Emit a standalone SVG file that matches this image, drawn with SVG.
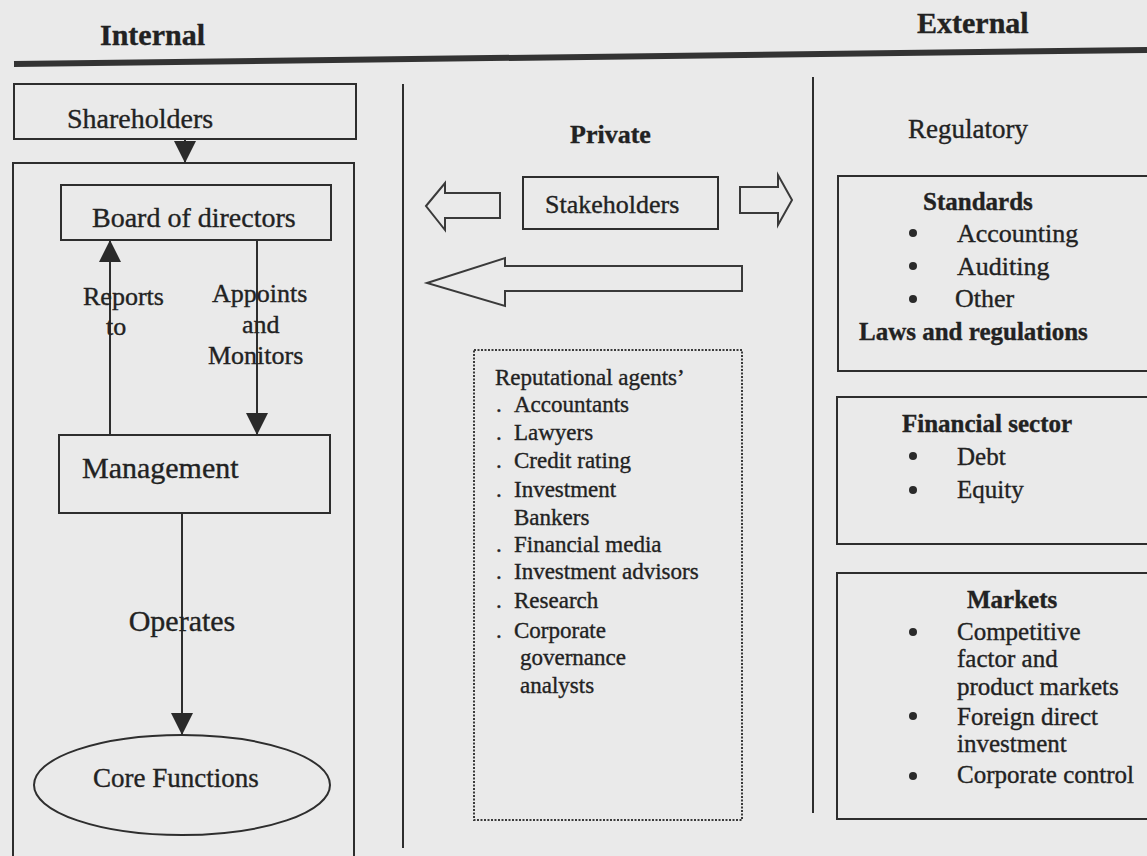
<svg xmlns="http://www.w3.org/2000/svg" width="1147" height="856" viewBox="0 0 1147 856">
<defs>
<style>
.bg{fill:#eaeaea}
.box{fill:none;stroke:#2e2e2e;stroke-width:2}
.dot{fill:none;stroke:#3a3a3a;stroke-width:2;stroke-dasharray:2 1.5}
.ln{fill:none;stroke:#2e2e2e;stroke-width:2}
.blk{fill:none;stroke:#3a3a3a;stroke-width:2;stroke-linejoin:miter}
text{font-family:"Liberation Serif","Times New Roman",serif;fill:#222;stroke:#222;stroke-width:0.35}
.t{font-size:30px;font-weight:bold}
.b{font-weight:bold}
.bul{fill:#2a2a2a}
</style>
<marker id="ah" markerWidth="22" markerHeight="22" refX="22" refY="11" orient="auto" markerUnits="userSpaceOnUse">
<path d="M0,0 L22,11 L0,22 z" fill="#2a2a2a"/>
</marker>
</defs>
<rect class="bg" x="0" y="0" width="1147" height="856"/>

<g id="headers">
<text class="t" x="100" y="45">Internal</text>
<text class="t" x="917" y="33">External</text>
<line x1="14" y1="64" x2="1147" y2="50" stroke="#333" stroke-width="6"/>
</g>

<g id="internal-frame">
<path class="box" d="M13,856 V163 H354 V856"/>
</g>

<g id="shareholders">
<rect class="box" x="14" y="84" width="342" height="55"/>
<text x="67" y="128" font-size="28">Shareholders</text>
</g>

<g id="board">
<rect class="box" x="61" y="185" width="270" height="55"/>
<text x="92" y="227" font-size="28">Board of directors</text>
</g>

<g id="management">
<rect class="box" x="59" y="435" width="271" height="78"/>
<text x="82" y="478" font-size="30">Management</text>
</g>

<g id="core-functions">
<ellipse class="box" cx="182" cy="785" rx="148" ry="50"/>
<text x="93" y="787" font-size="27">Core Functions</text>
</g>

<g id="connectors">
<line class="ln" x1="185" y1="140" x2="185" y2="163" marker-end="url(#ah)"/>
<line class="ln" x1="110" y1="435" x2="110" y2="240" marker-end="url(#ah)"/>
<line class="ln" x1="257" y1="240" x2="257" y2="435" marker-end="url(#ah)"/>
<line class="ln" x1="182" y1="513" x2="182" y2="735" marker-end="url(#ah)"/>
<polygon class="blk" points="426,206 445,183 445,193 500,193 500,218 445,218 445,230"/>
<polygon class="blk" points="740,187 778,187 778,175 792,200 778,225 778,213 740,213"/>
<polygon class="blk" points="427,283 505,258 505,266 742,266 742,291 505,291 505,306"/>
</g>

<g id="connector-labels">
<text x="83" y="305" font-size="26">Reports</text>
<text x="106" y="335" font-size="26">to</text>
<text x="212" y="302" font-size="26">Appoints</text>
<text x="242" y="333" font-size="26">and</text>
<text x="208" y="364" font-size="26">Monitors</text>
<text x="182" y="631" font-size="30" text-anchor="middle">Operates</text>
</g>

<g id="dividers">
<line class="ln" x1="403" y1="84" x2="403" y2="848"/>
<line class="ln" x1="813" y1="77" x2="813" y2="813"/>
</g>

<g id="private">
<text class="b" x="570" y="143" font-size="26">Private</text>
</g>

<g id="stakeholders">
<rect class="box" x="523" y="177" width="195" height="52"/>
<text x="545" y="213" font-size="26">Stakeholders</text>
</g>

<g id="reputational-agents">
<rect class="dot" x="474" y="350" width="268" height="470"/>
<text font-size="23">
<tspan x="495" y="385">Reputational agents’</tspan>
<tspan x="496" y="412">.</tspan><tspan x="514" y="412">Accountants</tspan>
<tspan x="496" y="440">.</tspan><tspan x="514" y="440">Lawyers</tspan>
<tspan x="496" y="468">.</tspan><tspan x="514" y="468">Credit rating</tspan>
<tspan x="496" y="497">.</tspan><tspan x="514" y="497">Investment</tspan>
<tspan x="514" y="525">Bankers</tspan>
<tspan x="496" y="552">.</tspan><tspan x="514" y="552">Financial media</tspan>
<tspan x="496" y="579">.</tspan><tspan x="514" y="579">Investment advisors</tspan>
<tspan x="496" y="608">.</tspan><tspan x="514" y="608">Research</tspan>
<tspan x="496" y="638">.</tspan><tspan x="514" y="638">Corporate</tspan>
<tspan x="520" y="665">governance</tspan>
<tspan x="520" y="693">analysts</tspan>
</text>
</g>

<g id="regulatory">
<text x="908" y="138" font-size="27">Regulatory</text>
</g>

<g id="standards">
<rect class="box" x="838" y="176" width="330" height="195"/>
<text class="b" x="923" y="210" font-size="25">Standards</text>
<circle class="bul" cx="913" cy="233" r="4"/>
<text x="957" y="242" font-size="26">Accounting</text>
<circle class="bul" cx="913" cy="266" r="4"/>
<text x="957" y="275" font-size="26">Auditing</text>
<circle class="bul" cx="913" cy="299" r="4"/>
<text x="955" y="307" font-size="26">Other</text>
<text class="b" x="859" y="340" font-size="25">Laws and regulations</text>
</g>

<g id="financial-sector">
<rect class="box" x="837" y="397" width="330" height="147"/>
<text class="b" x="902" y="432" font-size="25">Financial sector</text>
<circle class="bul" cx="913" cy="456" r="4"/>
<text x="957" y="465" font-size="25">Debt</text>
<circle class="bul" cx="913" cy="490" r="4"/>
<text x="957" y="498" font-size="25">Equity</text>
</g>

<g id="markets">
<rect class="box" x="837" y="573" width="330" height="246"/>
<text class="b" x="967" y="608" font-size="25">Markets</text>
<circle class="bul" cx="913" cy="632" r="4"/>
<text font-size="25">
<tspan x="957" y="640">Competitive</tspan>
<tspan x="957" y="667">factor and</tspan>
<tspan x="957" y="695">product markets</tspan>
<tspan x="957" y="725">Foreign direct</tspan>
<tspan x="957" y="752">investment</tspan>
<tspan x="957" y="783">Corporate control</tspan>
</text>
<circle class="bul" cx="913" cy="716" r="4"/>
<circle class="bul" cx="913" cy="776" r="4"/>
</g>
</svg>
